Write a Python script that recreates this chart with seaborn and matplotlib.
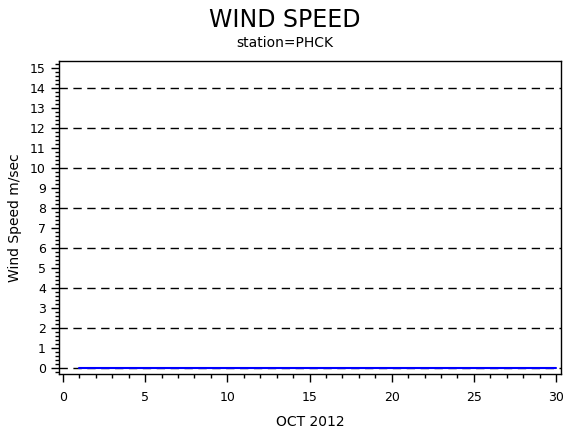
import numpy as np
import pandas as pd
import seaborn as sns
import matplotlib.pyplot as plt
from matplotlib.ticker import MultipleLocator

days = list(range(1, 31))
speed = [0.0] * 30
grid_levels = [0, 2, 4, 6, 8, 10, 12, 14]

df = pd.DataFrame({'day': days, 'speed': speed})

sns.set_style('ticks')
plt.rcParams['font.family'] = ['DejaVu Sans']
plt.rcParams['text.color'] = 'black'
plt.rcParams['axes.labelcolor'] = 'black'

fig = plt.figure(figsize=(5.7, 4.3), dpi=100)
ax = fig.add_axes([59/570, 1 - 374/430, 502/570, 313/430])

for g in grid_levels:
    ax.axhline(g, color='black', lw=1, ls=(0, (6, 4)), zorder=1)

sns.lineplot(data=df, x='day', y='speed', color='#0000ff', lw=1.5, ax=ax, zorder=3)

ax.set_xlim(-0.24, 30.3)
ax.set_ylim(-0.3, 15.35)
ax.xaxis.set_major_locator(MultipleLocator(5))
ax.xaxis.set_minor_locator(MultipleLocator(1))
ax.yaxis.set_major_locator(MultipleLocator(1))
ax.yaxis.set_minor_locator(MultipleLocator(0.2))
ax.tick_params(axis='both', which='major', length=6, width=1, labelsize=9, colors='black')
ax.tick_params(axis='both', which='minor', length=3, width=1, colors='black')
ax.tick_params(axis='x', pad=6)
for s in ax.spines.values():
    s.set_linewidth(1)
    s.set_color('black')

ax.set_xlabel('OCT 2012', fontsize=10, labelpad=8)
ax.set_ylabel('Wind Speed m/sec', fontsize=10, labelpad=6)

fig.text(0.5, 1 - 20/430, 'WIND SPEED', ha='center', va='center', fontsize=17, color='black')
fig.text(0.5, 1 - 43/430, 'station=PHCK', ha='center', va='center', fontsize=10, color='black')

plt.savefig('out.png', dpi=100)
